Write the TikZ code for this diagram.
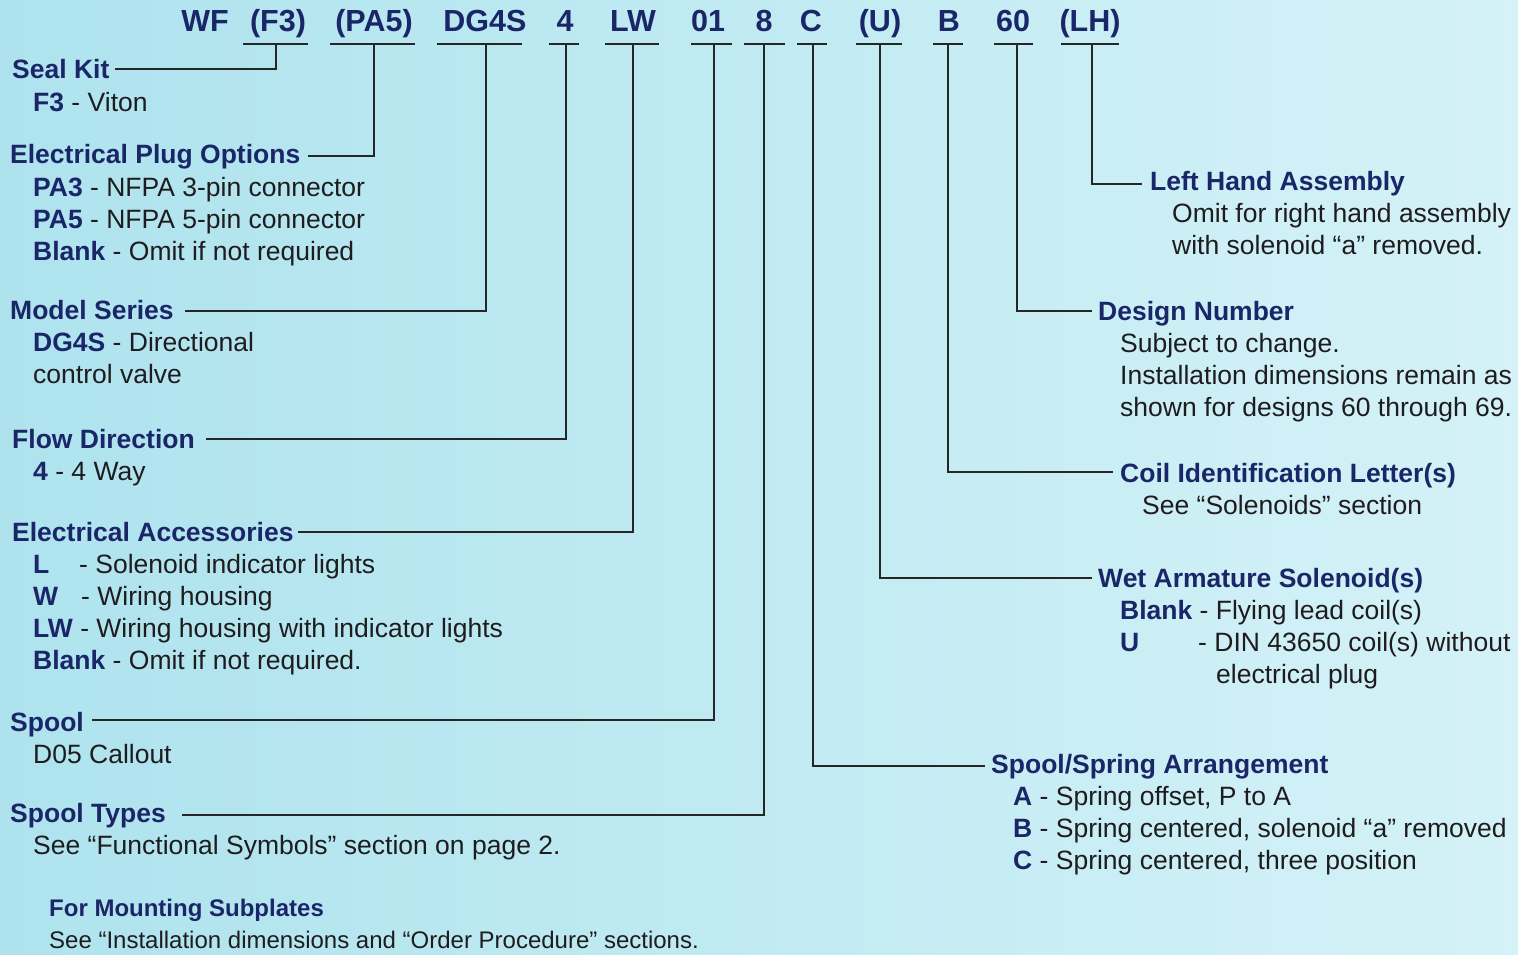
\documentclass[tikz,border=0pt]{standalone}
\usepackage{fontspec}
\setmainfont{Liberation Sans}
\definecolor{navy}{RGB}{27,38,104}
\definecolor{ink}{RGB}{30,28,30}
\definecolor{bgL}{RGB}{174,227,238}
\definecolor{bgR}{RGB}{212,242,247}
\definecolor{rulec}{RGB}{38,38,38}
\newcommand{\cd}[1]{\textcolor{navy}{\bfseries #1}}
\begin{document}
\begin{tikzpicture}[x=1pt,y=-1pt,
  hdr/.style={font=\fontsize{30.5}{36}\selectfont\bfseries, text=navy, anchor=base, inner sep=0pt, yshift=1pt},
  ttl/.style={font=\fontsize{26.5}{32}\selectfont\bfseries, text=navy, anchor=base west, inner sep=0pt, yshift=1pt},
  txt/.style={font=\fontsize{26.5}{32}\selectfont, text=ink, anchor=base west, inner sep=0pt, yshift=1pt},
  sttl/.style={font=\fontsize{24}{29}\selectfont\bfseries, text=navy, anchor=base west, inner sep=0pt},
  stxt/.style={font=\fontsize{24}{29}\selectfont, text=ink, anchor=base west, inner sep=0pt},
  conn/.style={draw=rulec, line width=2.2pt, line join=miter},
  uline/.style={draw=rulec, line width=2.6pt}]
\useasboundingbox (0,0) rectangle (1518,955);
\shade[left color=bgL, right color=bgR] (0,0) rectangle (1518,955);

% header
\node[hdr] (hWF)  at (205,33) {WF};
\node[hdr] (hF3)  at (278,33) {(F3)};
\node[hdr] (hPA5) at (374,33) {(PA5)};
\node[hdr] (hDG)  at (485,33) {DG4S};
\node[hdr] (h4)   at (565,33) {4};
\node[hdr] (hLW)  at (633,33) {LW};
\node[hdr] (h01)  at (708,33) {01};
\node[hdr] (h8)   at (764,33) {8};
\node[hdr] (hC)   at (811,33) {C};
\node[hdr] (hU)   at (880,33) {(U)};
\node[hdr] (hB)   at (949,33) {B};
\node[hdr] (h60)  at (1013,33) {60};
\node[hdr] (hLH)  at (1090,33) {(LH)};

% underlines
\draw[uline] (243,44) -- (308,44);
\draw[uline] (330,44) -- (415,44);
\draw[uline] (437,44) -- (522,44);
\draw[uline] (549,44) -- (579,44);
\draw[uline] (605,44) -- (659,44);
\draw[uline] (691,44) -- (732,44);
\draw[uline] (744,44) -- (785,44);
\draw[uline] (797,44) -- (827,44);
\draw[uline] (856,44) -- (902,44);
\draw[uline] (933,44) -- (963,44);
\draw[uline] (994,44) -- (1033,44);
\draw[uline] (1061,44) -- (1119,44);

% connector start points
\coordinate (cF3) at (276,44);
\coordinate (cPA5) at (374,44);
\coordinate (cDG) at (486,44);
\coordinate (c4) at (566,44);
\coordinate (cLW) at (633,44);
\coordinate (c01) at (714,44);
\coordinate (c8) at (764,44);
\coordinate (cC) at (813,44);
\coordinate (cU) at (880,44);
\coordinate (cB) at (948,44);
\coordinate (c60) at (1017,44);
\coordinate (cLH) at (1092,44);

% connector end points
\coordinate (eF3) at (115,69);
\coordinate (ePA5) at (308,156);
\coordinate (eDG) at (185,311);
\coordinate (e4) at (206,439);
\coordinate (eLW) at (298,532);
\coordinate (e01) at (92,720);
\coordinate (e8) at (182,815);
\coordinate (eC) at (985,766);
\coordinate (eU) at (1092,578);
\coordinate (eB) at (1113,472);
\coordinate (e60) at (1092,311);
\coordinate (eLH) at (1142,184);

\foreach \k in {F3,PA5,DG,4,LW,01,8,C,U,B,60,LH}
  \draw[conn] (c\k) |- (e\k);

% left labels
\node[ttl] (seal) at (12,80) {Seal Kit};
\node[txt] (sealA) at (33,113) {\cd{F3} - Viton};

\node[ttl] (plug) at (10,165) {Electrical Plug Options};
\node[txt] (plugA) at (33,197) {\cd{PA3} - NFPA 3-pin connector};
\node[txt] (plugB) at (33,229) {\cd{PA5} - NFPA 5-pin connector};
\node[txt] (plugC) at (33,261) {\cd{Blank} - Omit if not required};

\node[ttl] (model) at (10,320) {Model Series};
\node[txt] (modelA) at (33,352) {\cd{DG4S} - Directional};
\node[txt] (modelB) at (33,384) {control valve};

\node[ttl] (flow) at (12,449) {Flow Direction};
\node[txt] (flowA) at (33,481) {\cd{4} - 4 Way};

\node[ttl] (acc) at (12,542) {Electrical Accessories};
\node[txt] (accAk) at (33,574) {\cd{L}};
\node[txt] (accA) at (79,574) {- Solenoid indicator lights};
\node[txt] (accBk) at (33,606) {\cd{W}};
\node[txt] (accB) at (81,606) {- Wiring housing};
\node[txt] (accC) at (33,638) {\cd{LW} - Wiring housing with indicator lights};
\node[txt] (accD) at (33,670) {\cd{Blank} - Omit if not required.};

\node[ttl] (spool) at (10,732) {Spool};
\node[txt] (spoolA) at (33,764) {D05 Callout};

\node[ttl] (types) at (10,823) {Spool Types};
\node[txt] (typesA) at (33,855) {See “Functional Symbols” section on page 2.};

\node[sttl] (mount) at (49,916) {For Mounting Subplates};
\node[stxt] (mountA) at (49,948) {See “Installation dimensions and “Order Procedure” sections.};

% right labels
\node[ttl] (lh) at (1150,191) {Left Hand Assembly};
\node[txt] (lhA) at (1172,223) {Omit for right hand assembly};
\node[txt] (lhB) at (1172,255) {with solenoid “a” removed.};

\node[ttl] (des) at (1098,321) {Design Number};
\node[txt] (desA) at (1120,353) {Subject to change.};
\node[txt] (desB) at (1120,385) {Installation dimensions remain as};
\node[txt] (desC) at (1120,417) {shown for designs 60 through 69.};

\node[ttl] (coil) at (1120,483) {Coil Identification Letter(s)};
\node[txt] (coilA) at (1142,515) {See “Solenoids” section};

\node[ttl] (wet) at (1098,588) {Wet Armature Solenoid(s)};
\node[txt] (wetA) at (1120,620) {\cd{Blank} - Flying lead coil(s)};
\node[txt] (wetBk) at (1120,652) {\cd{U}};
\node[txt] (wetB) at (1198,652) {- DIN 43650 coil(s) without};
\node[txt] (wetC) at (1216,684) {electrical plug};

\node[ttl] (spr) at (991,774) {Spool/Spring Arrangement};
\node[txt] (sprA) at (1013,806) {\cd{A} - Spring offset, P to A};
\node[txt] (sprB) at (1013,838) {\cd{B} - Spring centered, solenoid “a” removed};
\node[txt] (sprC) at (1013,870) {\cd{C} - Spring centered, three position};
\end{tikzpicture}
\end{document}
